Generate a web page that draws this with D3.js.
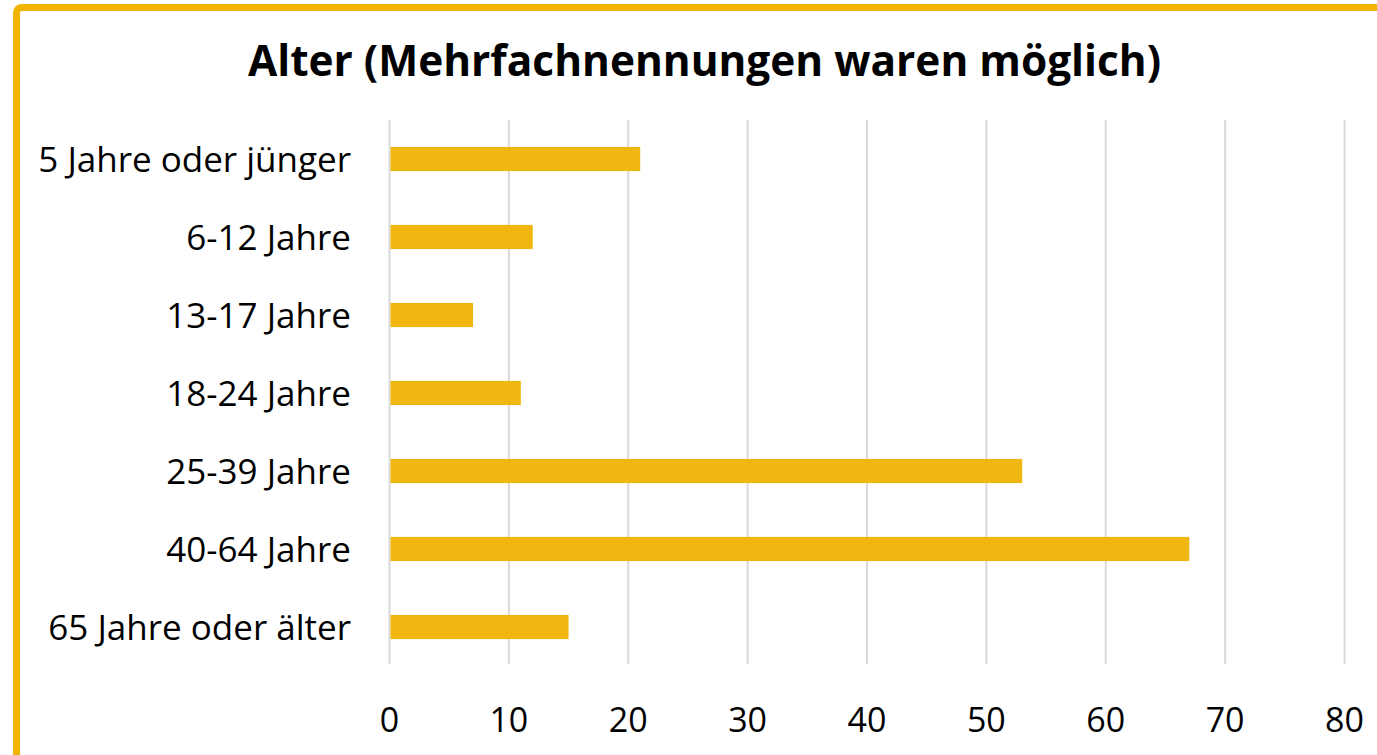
<!DOCTYPE html>
<html lang="de">
<head>
<meta charset="utf-8">
<script src="https://d3js.org/d3.v7.min.js"></script>
<title>Alter</title>
<style>
  body { margin: 0; background: #fff; }
  svg { display: block; font-family: "Open Sans", "Noto Sans", sans-serif; }
</style>
</head>
<body>
<svg width="1377" height="755"></svg>
<script>
// data
const categories = ["5 Jahre oder jünger", "6-12 Jahre", "13-17 Jahre", "18-24 Jahre", "25-39 Jahre", "40-64 Jahre", "65 Jahre oder älter"]
const values = [21, 12, 7, 11, 53, 67, 15]
const xTicks = [0, 10, 20, 30, 40, 50, 60, 70, 80]
const title = "Alter (Mehrfachnennungen waren möglich)"

const svg = d3.select("svg")
const W = 1377, H = 755
let margins = {top: 120, bottom: 89, left: 389.5, right: 32.5}

// frame (only top and left edge visible)
svg.append("rect")
    .attr("x", 16.5).attr("y", 7.5)
    .attr("width", W + 50).attr("height", H + 50)
    .attr("rx", 5)
    .attr("fill", "none")
    .attr("stroke", "#F1B500")
    .attr("stroke-width", 7)

svg.append("text")
    .attr("x", 704.5).attr("y", 76)
    .attr("text-anchor", "middle")
    .style("font-weight", "bold")
    .style("font-size", "42.4px")
    .text(title)

let xScale = d3.scaleLinear()
    .domain([0, 80])
    .range([margins.left, W - margins.right])
let yScale = d3.scaleBand()
    .domain(categories)
    .range([margins.top, H - margins.bottom])
    .paddingInner(0.69).paddingOuter(0.345)

// gridlines
svg.append("g").selectAll("line").data(xTicks).enter().append("line")
    .attr("x1", d => xScale(d)).attr("x2", d => xScale(d))
    .attr("y1", margins.top).attr("y2", 664)
    .attr("stroke", "#D9D9D9").attr("stroke-width", 2)

// bars
svg.append("g").selectAll("rect").data(values).enter().append("rect")
    .attr("x", xScale(0) + 1)
    .attr("y", (d, i) => yScale(categories[i]))
    .attr("height", yScale.bandwidth())
    .attr("width", d => xScale(d) - xScale(0) - 1)
    .attr("fill", "#F0B711")

// category labels
svg.append("g").selectAll("text").data(categories).enter().append("text")
    .attr("x", 351)
    .attr("y", d => yScale(d) + yScale.bandwidth() / 2)
    .attr("dy", "0.36em")
    .attr("text-anchor", "end")
    .style("font-size", "35px")
    .attr("fill", "#000")
    .text(d => d)

// x tick labels
svg.append("g").selectAll("text").data(xTicks).enter().append("text")
    .attr("x", d => xScale(d))
    .attr("y", 732)
    .attr("text-anchor", "middle")
    .style("font-size", "34px")
    .attr("fill", "#000")
    .text(d => d)
</script>
</body>
</html>
